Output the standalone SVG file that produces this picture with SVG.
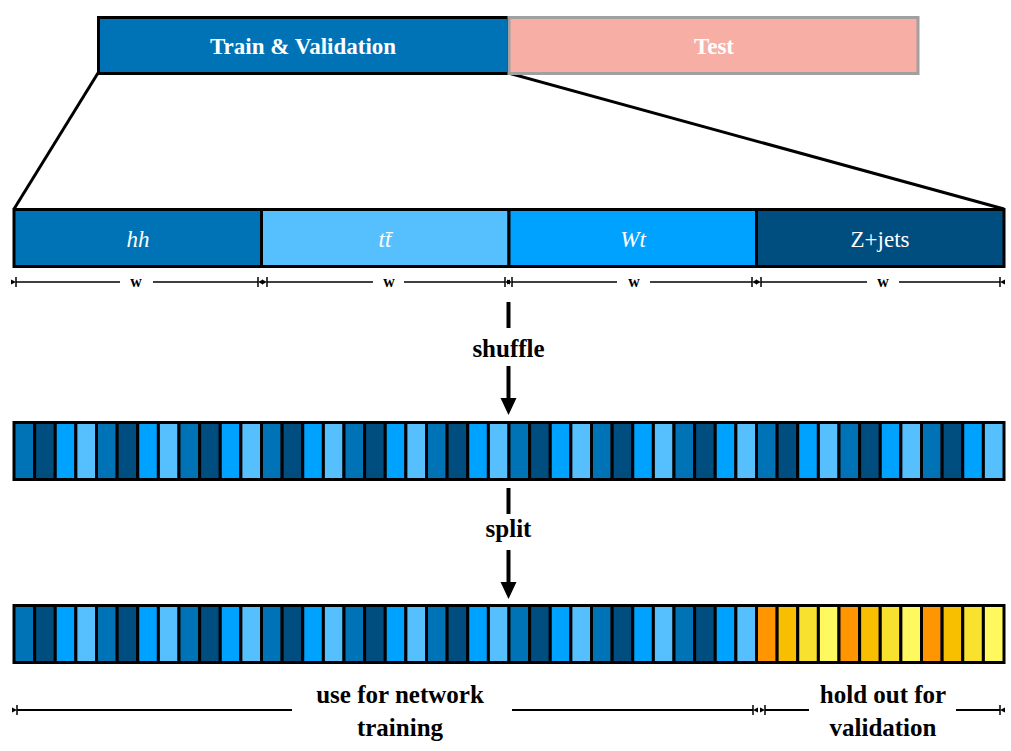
<svg xmlns="http://www.w3.org/2000/svg" width="1011" height="751" viewBox="0 0 1011 751">
<style>
text{font-family:"Liberation Serif","Times New Roman",serif;}
.lbl{font-size:23px;font-weight:bold;text-anchor:middle;}
.big{font-size:25px;font-weight:bold;text-anchor:middle;fill:#000;}
.wl{font-size:16px;font-weight:bold;text-anchor:middle;}
.seg{font-size:23px;fill:#fff;text-anchor:middle;}
.box{stroke:#000;stroke-width:3;}
.cell{stroke:#000;stroke-width:3;}
.hh{fill:#0073b6;}
.zj{fill:#004d80;}
.wt{fill:#00a2ff;}
.tt{fill:#56c0ff;}
.o1{fill:#ff9500;}
.o2{fill:#f8be00;}
.o3{fill:#f8e22f;}
.o4{fill:#fff95f;}
.dim{stroke:#000;stroke-width:1.6;fill:none;}
.brk{stroke:#000;stroke-width:2.2;fill:none;}
.arr{stroke:#000;stroke-width:4;fill:none;}
</style>
<defs>
<marker id="tk" viewBox="0 0 7 10" refX="1" refY="5" markerWidth="7" markerHeight="10" markerUnits="userSpaceOnUse" orient="auto-start-reverse">
<path d="M1,0 V10" stroke="#000" stroke-width="1.5"/>
<path d="M1,5 L6,2.5 L6,7.5 Z" fill="#000"/>
</marker>
<g id="blue4">
<rect class="cell hh" x="0" y="0" width="20.625" height="57"/>
<rect class="cell zj" x="20.625" y="0" width="20.625" height="57"/>
<rect class="cell wt" x="41.25" y="0" width="20.625" height="57"/>
<rect class="cell tt" x="61.875" y="0" width="20.625" height="57"/>
</g>
<g id="yel4">
<rect class="cell o1" x="0" y="0" width="20.625" height="57"/>
<rect class="cell o2" x="20.625" y="0" width="20.625" height="57"/>
<rect class="cell o3" x="41.25" y="0" width="20.625" height="57"/>
<rect class="cell o4" x="61.875" y="0" width="20.625" height="57"/>
</g>
</defs>
<rect width="1011" height="751" fill="#fff"/>

<g id="connectors">
<line x1="98" y1="73" x2="14" y2="209" stroke="#000" stroke-width="3"/>
<line x1="508" y1="73" x2="1004" y2="209" stroke="#000" stroke-width="3"/>
<line class="arr" x1="508.5" y1="302" x2="508.5" y2="328"/>
<line class="arr" x1="508.5" y1="366" x2="508.5" y2="400"/>
<path d="M500.5,398 L516.5,398 L508.5,415 Z" fill="#000"/>
<line class="arr" x1="508.5" y1="488" x2="508.5" y2="514"/>
<line class="arr" x1="508.5" y1="550" x2="508.5" y2="585"/>
<path d="M500.5,582 L516.5,582 L508.5,599 Z" fill="#000"/>
</g>

<g id="train-validation">
<rect class="box" x="98.5" y="17.5" width="410" height="56" fill="#0073b6"/>
<text class="lbl" x="303" y="54" fill="#fff">Train &amp; Validation</text>
</g>
<g id="test">
<rect x="509" y="17.5" width="409" height="56" fill="#f7aea5" stroke="#a0a0a0" stroke-width="3"/>
<text class="lbl" x="714" y="54" fill="#fff">Test</text>
</g>

<g id="seg-hh">
<rect class="box hh" x="14" y="209.5" width="247.5" height="57"/>
<text class="seg" x="138" y="247" font-style="italic">hh</text>
</g>
<g id="seg-tt">
<rect class="box tt" x="261.5" y="209.5" width="247.5" height="57"/>
<text class="seg" x="385" y="247" font-style="italic">tt̄</text>
</g>
<g id="seg-wt">
<rect class="box wt" x="509" y="209.5" width="247.5" height="57"/>
<text class="seg" x="633" y="247" font-style="italic">Wt</text>
</g>
<g id="seg-zjets">
<rect class="box zj" x="756.5" y="209.5" width="247.5" height="57"/>
<text class="seg" x="880" y="247">Z+jets</text>
</g>

<g id="widths">
<line class="dim" x1="16" y1="282" x2="120" y2="282" marker-start="url(#tk)"/>
<line class="dim" x1="153" y1="282" x2="258" y2="282" marker-end="url(#tk)"/>
<text class="wl" x="136" y="287">w</text>
<line class="dim" x1="267" y1="282" x2="373" y2="282" marker-start="url(#tk)"/>
<line class="dim" x1="404" y1="282" x2="505" y2="282" marker-end="url(#tk)"/>
<text class="wl" x="389" y="287">w</text>
<line class="dim" x1="512" y1="282" x2="617" y2="282" marker-start="url(#tk)"/>
<line class="dim" x1="650" y1="282" x2="752" y2="282" marker-end="url(#tk)"/>
<text class="wl" x="634" y="287">w</text>
<line class="dim" x1="761" y1="282" x2="867" y2="282" marker-start="url(#tk)"/>
<line class="dim" x1="899" y1="282" x2="1000" y2="282" marker-end="url(#tk)"/>
<text class="wl" x="883" y="287">w</text>
</g>

<g id="shuffle-label">
<text class="big" x="508.5" y="357">shuffle</text>
</g>

<g id="shuffled-bar">
<use href="#blue4" x="14" y="422.5"/>
<use href="#blue4" x="96.5" y="422.5"/>
<use href="#blue4" x="179" y="422.5"/>
<use href="#blue4" x="261.5" y="422.5"/>
<use href="#blue4" x="344" y="422.5"/>
<use href="#blue4" x="426.5" y="422.5"/>
<use href="#blue4" x="509" y="422.5"/>
<use href="#blue4" x="591.5" y="422.5"/>
<use href="#blue4" x="674" y="422.5"/>
<use href="#blue4" x="756.5" y="422.5"/>
<use href="#blue4" x="839" y="422.5"/>
<use href="#blue4" x="921.5" y="422.5"/>
</g>

<g id="split-label">
<text class="big" x="508.5" y="537">split</text>
</g>

<g id="split-bar">
<use href="#blue4" x="14" y="605.5"/>
<use href="#blue4" x="96.5" y="605.5"/>
<use href="#blue4" x="179" y="605.5"/>
<use href="#blue4" x="261.5" y="605.5"/>
<use href="#blue4" x="344" y="605.5"/>
<use href="#blue4" x="426.5" y="605.5"/>
<use href="#blue4" x="509" y="605.5"/>
<use href="#blue4" x="591.5" y="605.5"/>
<use href="#blue4" x="674" y="605.5"/>
<use href="#yel4" x="756.5" y="605.5"/>
<use href="#yel4" x="839" y="605.5"/>
<use href="#yel4" x="921.5" y="605.5"/>
</g>

<g id="training-range">
<line class="brk" x1="17" y1="710" x2="292" y2="710" marker-start="url(#tk)"/>
<line class="brk" x1="512" y1="710" x2="753" y2="710" marker-end="url(#tk)"/>
<text class="big" x="400" y="703">use for network</text>
<text class="big" x="400" y="736">training</text>
</g>
<g id="validation-range">
<line class="brk" x1="765" y1="710" x2="809" y2="710" marker-start="url(#tk)"/>
<line class="brk" x1="956" y1="710" x2="1000" y2="710" marker-end="url(#tk)"/>
<text class="big" x="883" y="703">hold out for</text>
<text class="big" x="883" y="736">validation</text>
</g>
</svg>
